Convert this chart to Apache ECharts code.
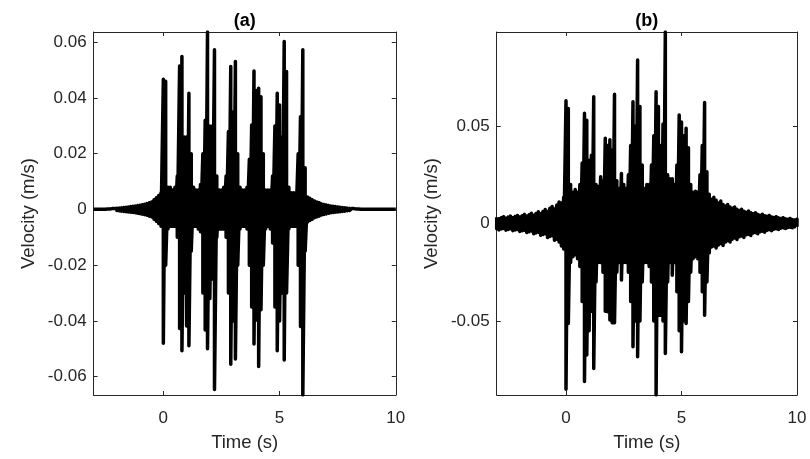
<!DOCTYPE html>
<html><head><meta charset="utf-8">
<script src="https://cdn.jsdelivr.net/npm/echarts@6/dist/echarts.min.js"></script>
<style>html,body{margin:0;padding:0;background:#fff}#c{width:810px;height:459px}</style>
</head><body><div id="c"></div>
<script>
// sample times: -3 s to 10 s every 0.1 s
const timeStart = -3, timeStep = 0.1;
const xTicks = [0, 5, 10];
const yTicksA = [-0.06, -0.04, -0.02, 0, 0.02, 0.04, 0.06];
const yTicksB = [-0.05, 0, 0.05];
const titles = ['(a)', '(b)'];

// (a) upper / lower envelope of velocity (m/s)
const upperA = [
 0.0001,0.0001,0.0001,0.0001,0.0001,0.0001,0.0002,0.0002,0.0003,0.0003,
 0.0004,0.0005,0.0006,0.0007,0.0008,0.0009,0.001,0.0011,0.0012,0.0014,
 0.0015,0.0017,0.0019,0.0021,0.0024,0.0027,0.0035,0.0042,0.005,0.006,
 0.0467,0.046,0.008,0.008,0.007,0.008,0.012,0.0515,0.0549,0.026,
 0.026,0.0417,0.02,0.008,0.007,0.007,0.009,0.02,0.032,0.0637,
 0.030,0.03,0.0573,0.012,0.007,0.007,0.008,0.012,0.028,0.0513,
 0.035,0.0531,0.02,0.008,0.007,0.007,0.008,0.018,0.0303,0.0497,
 0.0427,0.0435,0.0405,0.02,0.007,0.007,0.007,0.012,0.03,0.0417,
 0.0375,0.026,0.0603,0.0495,0.008,0.006,0.006,0.006,0.02,0.0333,
 0.0573,0.015,0.0045,0.004,0.0035,0.003,0.0027,0.0024,0.002,0.0018,
 0.0016,0.0014,0.0012,0.0011,0.001,0.0009,0.0008,0.0007,0.0006,0.0005,
 0.0004,0.0003,0.0003,0.0002,0.0002,0.0001,0.0001,0.0001,0.0001,0.0001,
 0.0001,0.0001,0.0001,0.0001,0.0001,0.0001,0.0001,0.0001,0.0001,0.0001,0.0001
];
const lowerA = [
 -0.0001,-0.0001,-0.0001,-0.0001,-0.0001,-0.0001,-0.0002,-0.0002,-0.0003,-0.0003,
 -0.0004,-0.0005,-0.0006,-0.0007,-0.0008,-0.0009,-0.001,-0.0011,-0.0012,-0.0014,
 -0.0015,-0.0017,-0.0019,-0.0021,-0.0024,-0.0027,-0.0035,-0.0042,-0.005,-0.006,
 -0.048,-0.02,-0.007,-0.006,-0.006,-0.006,-0.01,-0.0427,-0.0507,-0.03,
 -0.0418,-0.0489,-0.015,-0.006,-0.006,-0.007,-0.008,-0.03,-0.0433,-0.050,
 -0.032,-0.025,-0.0646,-0.01,-0.007,-0.007,-0.007,-0.01,-0.03,-0.0556,
 -0.040,-0.0537,-0.02,-0.007,-0.006,-0.006,-0.007,-0.02,-0.035,-0.0483,
 -0.0397,-0.0564,-0.036,-0.02,-0.007,-0.006,-0.007,-0.012,-0.035,-0.0507,
 -0.040,-0.03,-0.054,-0.03,-0.007,-0.006,-0.006,-0.006,-0.02,-0.042,
 -0.0666,-0.015,-0.0045,-0.004,-0.0035,-0.003,-0.0027,-0.0024,-0.002,-0.0018,
 -0.0016,-0.0014,-0.0012,-0.0011,-0.001,-0.0009,-0.0008,-0.0007,-0.0006,-0.0005,
 -0.0004,-0.0003,-0.0003,-0.0002,-0.0002,-0.0001,-0.0001,-0.0001,-0.0001,-0.0001,
 -0.0001,-0.0001,-0.0001,-0.0001,-0.0001,-0.0001,-0.0001,-0.0001,-0.0001,-0.0001,-0.0001
];

// (b) upper / lower envelope of velocity (m/s)
const upperB = [
 0.0032,0.0025,0.003,0.0035,0.0027,0.0033,0.0038,0.003,0.0036,0.0041,
 0.0034,0.004,0.0047,0.0038,0.0045,0.0053,0.0043,0.0052,0.006,0.005,
 0.0062,0.0072,0.0062,0.0078,0.0088,0.0075,0.0095,0.011,0.0105,0.0135,
 0.063,0.059,0.02,0.016,0.0175,0.016,0.02,0.031,0.0565,0.053,
 0.0325,0.035,0.065,0.02,0.019,0.024,0.022,0.0437,0.04,0.043,
 0.0377,0.0663,0.022,0.018,0.0257,0.02,0.018,0.025,0.04,0.0625,
 0.05,0.0838,0.06,0.03,0.018,0.02,0.02,0.03,0.045,0.0676,
 0.06,0.04,0.051,0.0982,0.025,0.023,0.023,0.02,0.03,0.0556,
 0.0521,0.045,0.0488,0.0389,0.02,0.0161,0.0165,0.016,0.025,0.04,
 0.0621,0.0265,0.015,0.0125,0.0135,0.012,0.0105,0.0115,0.0098,0.009,
 0.0098,0.0085,0.0078,0.0085,0.0073,0.0067,0.0073,0.0063,0.0058,0.0064,
 0.0055,0.005,0.0055,0.0047,0.0043,0.0048,0.004,0.0037,0.0041,0.0034,
 0.0031,0.0035,0.0029,0.0026,0.003,0.0024,0.0022,0.0026,0.002,0.0018,0.0022
];
const lowerB = [
 -0.0027,-0.0033,-0.0028,-0.0025,-0.0034,-0.003,-0.0027,-0.0037,-0.0033,-0.003,
 -0.0041,-0.0037,-0.0034,-0.0046,-0.0042,-0.0038,-0.0052,-0.0048,-0.0044,-0.006,
 -0.0056,-0.0052,-0.0072,-0.0066,-0.0062,-0.0086,-0.008,-0.0095,-0.0115,-0.013,
 -0.085,-0.0512,-0.02,-0.017,-0.016,-0.018,-0.022,-0.04,-0.081,-0.0674,
 -0.055,-0.045,-0.0743,-0.03,-0.02,-0.02,-0.025,-0.045,-0.0452,-0.0495,
 -0.0509,-0.0509,-0.025,-0.02,-0.029,-0.02,-0.02,-0.025,-0.04,-0.0632,
 -0.05,-0.0683,-0.05,-0.03,-0.02,-0.02,-0.022,-0.03,-0.05,-0.0879,
 -0.047,-0.047,-0.05,-0.0666,-0.03,-0.02,-0.0265,-0.02,-0.035,-0.055,
 -0.0657,-0.05,-0.0512,-0.04,-0.025,-0.018,-0.017,-0.018,-0.025,-0.035,
 -0.047,-0.03,-0.015,-0.012,-0.0115,-0.0125,-0.011,-0.0102,-0.0112,-0.0095,
 -0.0088,-0.0095,-0.008,-0.0074,-0.0082,-0.0068,-0.0064,-0.0071,-0.0058,-0.0055,
 -0.0061,-0.0049,-0.0046,-0.0052,-0.0042,-0.0039,-0.0044,-0.0035,-0.0032,-0.0037,
 -0.0029,-0.0027,-0.0031,-0.0024,-0.0022,-0.0026,-0.002,-0.0019,-0.0022,-0.0017,-0.0016
];

function zigzag(up, lo) {
  const pts = [];
  for (let i = 0; i < up.length; i++) {
    const t = +(timeStart + i * timeStep).toFixed(2);
    pts.push([t, up[i]]);
    pts.push([t, lo[i]]);
  }
  return pts;
}
const seriesA = zigzag(upperA, lowerA);
const seriesB = zigzag(upperB, lowerB);
const yMinA = Math.min(...lowerA), yMaxA = Math.max(...upperA);
const yMinB = Math.min(...lowerB), yMaxB = Math.max(...upperB);

const axisColor = '#262626';
const font = "'Liberation Sans', Arial, Helvetica, sans-serif";

function xAx(g, top) {
  return {
    gridIndex: g, type: 'value', min: -3, max: 10, position: top ? 'top' : 'bottom',
    axisLine: { show: true, onZero: false, lineStyle: { color: axisColor, width: 1 } },
    axisTick: { show: true, inside: true, length: 4, customValues: xTicks, lineStyle: { color: axisColor } },
    axisLabel: top ? { show: false } : { show: true, customValues: xTicks, fontSize: 17, color: axisColor, margin: 15, fontFamily: font },
    splitLine: { show: false },
    name: top ? '' : 'Time (s)', nameLocation: 'middle', nameGap: 38,
    nameTextStyle: { fontSize: 18.5, color: axisColor, fontFamily: font }
  };
}
function yAx(g, right, mn, mx, ticks) {
  return {
    gridIndex: g, type: 'value', min: mn, max: mx, position: right ? 'right' : 'left',
    axisLine: { show: true, onZero: false, lineStyle: { color: axisColor, width: 1 } },
    axisTick: { show: true, inside: true, length: 4, customValues: ticks, lineStyle: { color: axisColor } },
    axisLabel: right ? { show: false } : { show: true, customValues: ticks, fontSize: 17, color: axisColor, margin: 7, fontFamily: font },
    splitLine: { show: false },
    name: right ? '' : 'Velocity (m/s)', nameLocation: 'middle', nameGap: 55, nameRotate: 90,
    nameTextStyle: { fontSize: 18.5, color: axisColor, fontFamily: font }
  };
}

const chart = echarts.init(document.getElementById('c'), null, { renderer: 'canvas' });
chart.setOption({
  animation: false,
  backgroundColor: '#fff',
  textStyle: { fontFamily: font },
  title: [
    { text: titles[0], left: 239.7, top: 7, textAlign: 'center', textStyle: { fontSize: 18, fontWeight: 'bold', color: '#000', fontFamily: font } },
    { text: titles[1], left: 641.8, top: 7, textAlign: 'center', textStyle: { fontSize: 18, fontWeight: 'bold', color: '#000', fontFamily: font } }
  ],
  grid: [
    { left: 93.6, top: 32, width: 302.2, height: 363, containLabel: false },
    { left: 496.7, top: 32, width: 300.3, height: 363, containLabel: false }
  ],
  xAxis: [xAx(0, false), xAx(0, true), xAx(1, false), xAx(1, true)],
  yAxis: [yAx(0, false, yMinA, yMaxA, yTicksA), yAx(0, true, yMinA, yMaxA, yTicksA),
          yAx(1, false, yMinB, yMaxB, yTicksB), yAx(1, true, yMinB, yMaxB, yTicksB)],
  series: [
    { type: 'line', xAxisIndex: 0, yAxisIndex: 0, data: seriesA, showSymbol: false, symbol: 'none',
      lineStyle: { color: '#000', width: 3.5, join: 'round' }, silent: true, clip: true },
    { type: 'line', xAxisIndex: 2, yAxisIndex: 2, data: seriesB, showSymbol: false, symbol: 'none',
      lineStyle: { color: '#000', width: 3.5, join: 'round' }, silent: true, clip: true }
  ]
});
</script>
</body></html>
